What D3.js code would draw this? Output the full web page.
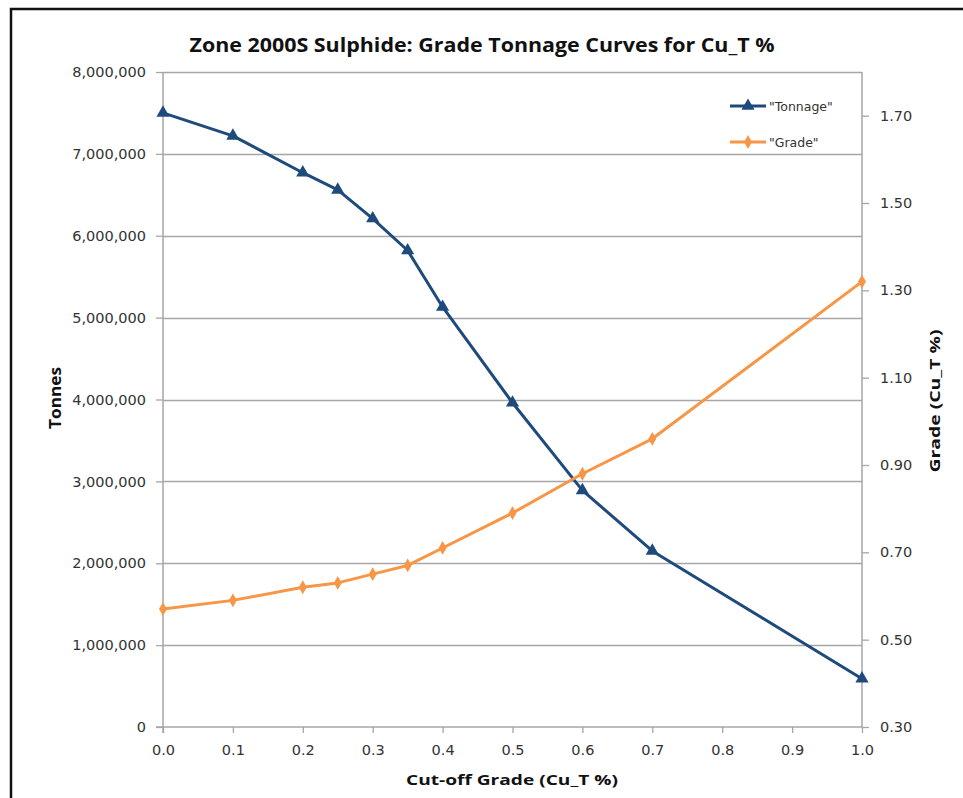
<!DOCTYPE html>
<html>
<head>
<meta charset="utf-8">
<script src="https://cdn.jsdelivr.net/npm/d3@7"></script>
<style>
  html, body { margin: 0; padding: 0; background: #fff; }
  svg { display: block; }
  text { font-family: "Open Sans", "Liberation Sans", sans-serif; }
</style>
</head>
<body>
<svg id="chart" width="963" height="798"></svg>
<script>
const title = "Zone 2000S Sulphide: Grade Tonnage Curves for Cu_T %";
const cutoffs = [0.0, 0.1, 0.2, 0.25, 0.3, 0.35, 0.4, 0.5, 0.6, 0.7, 1.0];
const tonnage = [7500000, 7220000, 6770000, 6560000, 6210000, 5820000, 5130000, 3960000, 2890000, 2150000, 590000];
const grade = [0.57, 0.59, 0.62, 0.63, 0.65, 0.67, 0.71, 0.79, 0.88, 0.96, 1.32];
const xTicks = [0, 0.1, 0.2, 0.3, 0.4, 0.5, 0.6, 0.7, 0.8, 0.9, 1.0];
const yLeftTicks = [0, 1000000, 2000000, 3000000, 4000000, 5000000, 6000000, 7000000, 8000000];
const yRightTicks = [0.30, 0.50, 0.70, 0.90, 1.10, 1.30, 1.50, 1.70];
const seriesNames = ['"Tonnage"', '"Grade"'];

const svg = d3.select("#chart");
const m = { left: 163, right: 862, top: 72, bottom: 727 };
const tickFont = '"DejaVu Sans", Verdana, sans-serif';

// frame
svg.append("rect").attr("x", 11).attr("y", 9).attr("width", 1000).attr("height", 1000)
  .attr("fill", "#fff").attr("stroke", "#111").attr("stroke-width", 2.5);

const x = d3.scaleLinear().domain([0, 1]).range([m.left, m.right]);
const yL = d3.scaleLinear().domain([0, 8000000]).range([m.bottom, m.top]);
const yR = d3.scaleLinear().domain([0.30, 1.80]).range([m.bottom, m.top]);

const gridColor = "#a6a6a6";
const textColor = "#333";

// gridlines
svg.append("g").selectAll("line").data(yLeftTicks.slice(1)).join("line")
  .attr("x1", m.left).attr("x2", m.right)
  .attr("y1", d => Math.round(yL(d)) + 0.5).attr("y2", d => Math.round(yL(d)) + 0.5)
  .attr("stroke", gridColor).attr("stroke-width", 1.3);

// left axis
const axL = svg.append("g").attr("transform", `translate(${m.left},0)`)
  .call(d3.axisLeft(yL).tickValues(yLeftTicks).tickFormat(d3.format(",")).tickSize(7).tickPadding(10));
// right axis
const axR = svg.append("g").attr("transform", `translate(${m.right},0)`)
  .call(d3.axisRight(yR).tickValues(yRightTicks).tickFormat(d3.format(".2f")).tickSize(7).tickPadding(11));
// bottom axis
const axB = svg.append("g").attr("transform", `translate(0,${m.bottom})`)
  .call(d3.axisBottom(x).tickValues(xTicks).tickFormat(d3.format(".1f")).tickSize(6).tickPadding(12));

[axL, axR, axB].forEach(ax => {
  ax.select(".domain").attr("stroke", gridColor).attr("stroke-width", 1.5);
  ax.selectAll(".tick line").attr("stroke", gridColor).attr("stroke-width", 1.3);
  ax.selectAll(".tick text").attr("fill", textColor).attr("font-size", 14.5)
    .style("font-family", tickFont);
});
axR.select(".domain").attr("d", `M0,${m.top}V${m.bottom}`);
axL.select(".domain").attr("d", `M0,${m.top}V${m.bottom + 6}`);
axB.select(".domain").attr("d", `M${m.left - 7},0H${m.right}`);

// lines
const tonColor = "#1f4a7c";
const gradeColor = "#f79646";
const lineT = d3.line().x((d, i) => x(cutoffs[i])).y(d => yL(d));
const lineG = d3.line().x((d, i) => x(cutoffs[i])).y(d => yR(d));

svg.append("path").datum(tonnage).attr("d", lineT).attr("fill", "none")
  .attr("stroke", tonColor).attr("stroke-width", 3).attr("stroke-linejoin", "round");
svg.append("path").datum(grade).attr("d", lineG).attr("fill", "none")
  .attr("stroke", gradeColor).attr("stroke-width", 3).attr("stroke-linejoin", "round");

const tri = d3.symbol().type(d3.symbolTriangle).size(75);
const dia = d3.symbol().type(d3.symbolDiamond).size(55);

svg.append("g").selectAll("path").data(tonnage).join("path")
  .attr("d", tri).attr("transform", (d, i) => `translate(${x(cutoffs[i])},${yL(d)})`)
  .attr("fill", tonColor);
svg.append("g").selectAll("path").data(grade).join("path")
  .attr("d", dia).attr("transform", (d, i) => `translate(${x(cutoffs[i])},${yR(d)})`)
  .attr("fill", gradeColor);

// title
svg.append("text").attr("x", 482).attr("y", 52).attr("text-anchor", "middle")
  .attr("font-size", 19.5).attr("font-weight", "bold").attr("fill", "#111")
  .attr("textLength", 585).attr("lengthAdjust", "spacingAndGlyphs").text(title);

// axis titles
svg.append("text").attr("transform", "translate(61,398) rotate(-90)").attr("text-anchor", "middle")
  .attr("font-size", 16).attr("font-weight", "bold").attr("fill", "#111")
  .attr("textLength", 62).attr("lengthAdjust", "spacingAndGlyphs").text("Tonnes");
svg.append("text").attr("transform", "translate(940,401) rotate(-90)").attr("text-anchor", "middle")
  .attr("font-size", 14.5).attr("font-weight", "bold").attr("fill", "#111")
  .attr("textLength", 143).attr("lengthAdjust", "spacingAndGlyphs").text("Grade (Cu_T %)");
svg.append("text").attr("x", 512).attr("y", 785).attr("text-anchor", "middle")
  .attr("font-size", 14.5).attr("font-weight", "bold").attr("fill", "#111")
  .attr("textLength", 212).attr("lengthAdjust", "spacingAndGlyphs").text("Cut-off Grade (Cu_T %)");

// legend
const legend = svg.append("g");
const lg = [
  { name: seriesNames[0], color: tonColor, sym: tri, y: 106 },
  { name: seriesNames[1], color: gradeColor, sym: dia, y: 142 }
];
lg.forEach(l => {
  legend.append("line").attr("x1", 730).attr("x2", 766).attr("y1", l.y).attr("y2", l.y)
    .attr("stroke", l.color).attr("stroke-width", 3);
  legend.append("path").attr("d", l.sym).attr("transform", `translate(748,${l.y})`).attr("fill", l.color);
  legend.append("text").attr("x", 769).attr("y", l.y + 5).attr("font-size", 12.5)
    .style("font-family", tickFont).attr("fill", textColor).text(l.name);
});
</script>
</body>
</html>
